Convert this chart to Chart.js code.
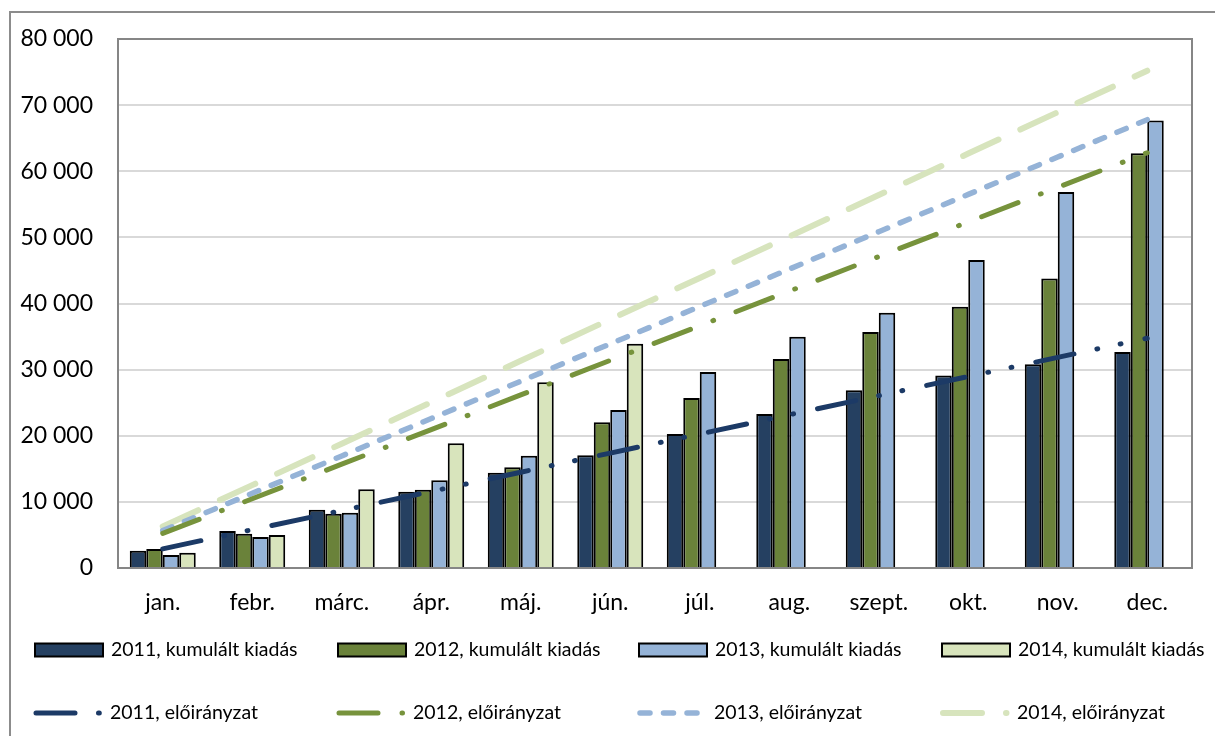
<!DOCTYPE html>
<html lang="hu">
<head>
<meta charset="utf-8">
<title>Kumulált kiadás és előirányzat</title>
<script src="https://cdn.jsdelivr.net/npm/chart.js@4.4.1/dist/chart.umd.min.js"></script>
<style>
  html, body { margin: 0; padding: 0; background: #ffffff; }
  canvas { display: block; }
</style>
</head>
<body>
<canvas id="chart" width="1215" height="736"></canvas>
<script>
// Months on the category axis
const months = ['jan.', 'febr.', 'márc.', 'ápr.', 'máj.', 'jún.', 'júl.', 'aug.', 'szept.', 'okt.', 'nov.', 'dec.'];

// Cumulative spending per year
const spent2011 = [2620, 5600, 8820, 11550, 14420, 17050, 20270, 23300, 26880, 29130, 30820, 32660];
const spent2012 = [2870, 5190, 8220, 11850, 15230, 22040, 25720, 31620, 35700, 39500, 43780, 62710];
const spent2013 = [1970, 4690, 8370, 13260, 16990, 23900, 29650, 34990, 38620, 46560, 56870, 67690];
const spent2014 = [2320, 4990, 11900, 18860, 28090, 33930, null, null, null, null, null, null];

// Cumulative appropriation per year
const plan2011 = [2900, 5790, 8690, 11580, 14480, 17380, 20270, 23170, 26060, 28960, 31850, 34750];
const plan2012 = [5230, 10470, 15700, 20930, 26170, 31400, 36630, 41870, 47100, 52330, 57570, 62800];
const plan2013 = [5650, 11300, 16950, 22600, 28250, 33900, 39550, 45200, 50850, 56500, 62150, 67800];
const plan2014 = [6270, 12530, 18800, 25070, 31330, 37600, 43870, 50130, 56400, 62670, 68930, 75200];

// Value axis ticks
const yTicks = [0, 10000, 20000, 30000, 40000, 50000, 60000, 70000, 80000];

const FONT = 'Lato, "Open Sans", "DejaVu Sans", sans-serif';

const fmt = v => String(v).replace(/\B(?=(\d{3})+(?!\d))/g, ' ');

function barSet(label, data, color) {
  return {
    type: 'bar', label, data,
    backgroundColor: color, borderColor: '#000000', borderWidth: 2,
    categoryPercentage: 0.737, barPercentage: 1.0, order: 2
  };
}
function lineSet(label, data, color, width, dash) {
  return {
    type: 'line', label, data,
    borderColor: color, backgroundColor: color, borderWidth: width,
    borderDash: dash, borderCapStyle: 'round', borderJoinStyle: 'round',
    pointRadius: 0, pointHoverRadius: 0, tension: 0, fill: false, order: 1
  };
}

const datasets = [
  barSet('2011, kumulált kiadás', spent2011, '#254061'),
  barSet('2012, kumulált kiadás', spent2012, '#6A823A'),
  barSet('2013, kumulált kiadás', spent2013, '#95B3D7'),
  barSet('2014, kumulált kiadás', spent2014, '#D8E4BC'),
  lineSet('2011, előirányzat', plan2011, '#1C3A66', 5, [39, 23.5, 0.8, 23, 0.8, 24.5]),
  lineSet('2012, előirányzat', plan2012, '#77933C', 5, [39, 24, 0.8, 24]),
  lineSet('2013, előirányzat', plan2013, '#95B3D7', 5.5, [10, 13.5]),
  lineSet('2014, előirányzat', plan2014, '#D7E4BD', 6, [39, 24])
];

// Outer frame, plot border and the two-row legend
const decor = {
  id: 'decor',
  beforeDraw(chart) {
    const c = chart.ctx;
    c.save();
    c.fillStyle = '#ffffff';
    c.fillRect(0, 0, chart.width, chart.height);
    c.strokeStyle = '#8c8c8c';
    c.lineWidth = 2;
    c.beginPath();
    c.moveTo(10, chart.height + 5);
    c.lineTo(10, 12);
    c.lineTo(chart.width + 5, 12);
    c.stroke();
    c.restore();
  },
  afterDraw(chart) {
    const c = chart.ctx;
    const a = chart.chartArea;
    c.save();
    c.strokeStyle = '#868686';
    c.lineWidth = 2;
    c.strokeRect(a.left, a.top, a.right - a.left, a.bottom - a.top);

    const cols = [33, 336, 637, 940];
    const rowBar = 650, rowLine = 713;
    c.font = '19.5px ' + FONT;
    c.textBaseline = 'middle';
    c.textAlign = 'left';
    datasets.forEach((ds, i) => {
      const col = cols[i % 4];
      if (ds.type === 'bar') {
        c.fillStyle = ds.backgroundColor;
        c.fillRect(col + 2, rowBar - 6.5, 68, 13);
        c.strokeStyle = '#000000';
        c.lineWidth = 2;
        c.strokeRect(col + 2, rowBar - 6.5, 68, 13);
        c.fillStyle = '#000000';
        c.fillText(ds.label, col + 78, rowBar);
      } else {
        c.strokeStyle = ds.borderColor;
        c.lineWidth = ds.borderWidth;
        c.lineCap = 'round';
        c.setLineDash(ds.borderDash);
        c.beginPath();
        c.moveTo(col + 3, rowLine);
        c.lineTo(col + 66.5, rowLine);
        c.stroke();
        c.setLineDash([]);
        c.fillStyle = '#000000';
        c.fillText(ds.label, col + 77, rowLine);
      }
    });
    c.restore();
  }
};

new Chart(document.getElementById('chart'), {
  data: { labels: months, datasets },
  options: {
    responsive: false,
    devicePixelRatio: 1,
    animation: false,
    layout: { padding: { left: 0, top: 39, right: 23, bottom: 118 } },
    plugins: { legend: { display: false }, tooltip: { enabled: false } },
    scales: {
      x: {
        grid: { display: false },
        border: { display: true, color: '#868686', width: 2 },
        ticks: { color: '#000000', font: { family: FONT, size: 23 }, padding: 13, maxRotation: 0, autoSkip: false },
        afterFit(s) { s.height = 50; }
      },
      y: {
        min: 0, max: 80000,
        afterBuildTicks(s) { s.ticks = yTicks.map(v => ({ value: v })); },
        grid: { color: '#D9D9D9', lineWidth: 2, drawTicks: false },
        border: { display: true, color: '#868686', width: 2 },
        ticks: { color: '#000000', font: { family: FONT, size: 23 }, padding: 25, callback: v => fmt(v) },
        afterFit(s) { s.width = 118; }
      }
    }
  },
  plugins: [decor]
});
</script>
</body>
</html>
